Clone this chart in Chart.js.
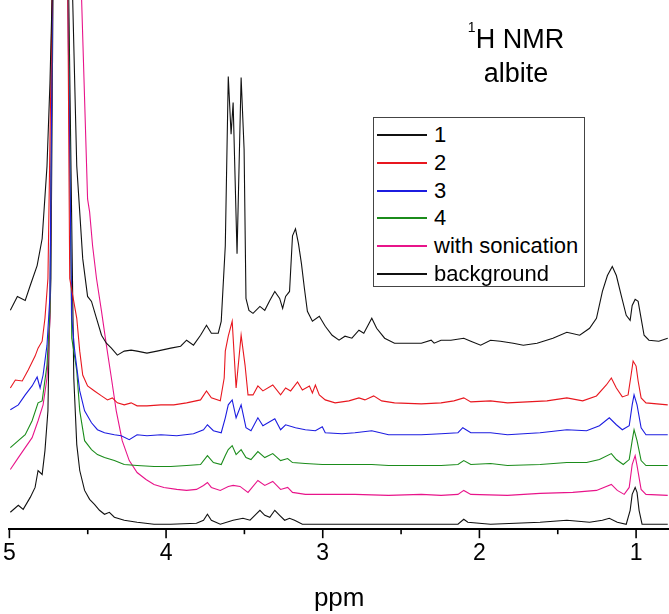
<!DOCTYPE html>
<html><head><meta charset="utf-8">
<script src="https://cdn.jsdelivr.net/npm/chart.js@4.4.0/dist/chart.umd.min.js"></script>
<style>
html,body{margin:0;padding:0;background:#fff;}
#wrap{position:relative;width:669px;height:614px;font-family:"Liberation Sans",Arial,sans-serif;color:#000;overflow:hidden;}
#c{position:absolute;left:0;top:0;}
#title{position:absolute;left:416px;width:200px;top:22px;text-align:center;font-size:27px;line-height:34px;white-space:nowrap;}
#title sup{font-size:14px;position:relative;top:-2px;vertical-align:top;line-height:14px;}
#legend{position:absolute;left:373px;top:117px;width:212px;height:170px;border:1px solid #444;box-sizing:border-box;background:#fff;}
.row{position:absolute;left:0;height:28px;line-height:28px;font-size:22px;white-space:nowrap;}
.sw{position:absolute;left:3px;top:13px;width:50px;height:2px;}
.lb{position:absolute;left:60px;top:0;}
</style></head>
<body><div id="wrap"><canvas id="c" width="669" height="614"></canvas>
<div id="title"><sup>1</sup>H NMR<br>albite</div>
<div id="legend"></div></div>
<script>
// x = chemical shift (ppm), y = intensity (a.u.)
const spectrum1 = [[4.994,220],[4.949,234],[4.899,230],[4.867,245],[4.823,265],[4.791,292],[4.760,365],[4.741,449],[4.728,532],[4.671,3000],[4.596,532],[4.570,365],[4.532,272],[4.501,234],[4.476,229],[4.444,212],[4.412,195],[4.381,187],[4.349,182],[4.311,175],[4.267,179],[4.223,180],[4.185,179],[4.122,177],[4.058,179],[3.970,182],[3.907,184],[3.869,190],[3.825,185],[3.780,195],[3.742,205],[3.711,197],[3.667,197],[3.648,209],[3.622,285],[3.603,455],[3.585,397],[3.572,429],[3.547,277],[3.521,454],[3.502,382],[3.490,232],[3.471,220],[3.445,217],[3.401,224],[3.370,220],[3.338,230],[3.306,239],[3.275,232],[3.256,222],[3.237,234],[3.212,239],[3.193,295],[3.174,302],[3.155,287],[3.136,267],[3.117,242],[3.098,219],[3.066,209],[3.022,214],[2.984,204],[2.940,195],[2.896,190],[2.858,194],[2.814,192],[2.769,200],[2.738,197],[2.687,212],[2.656,202],[2.605,192],[2.542,187],[2.453,187],[2.371,187],[2.308,190],[2.289,187],[2.245,190],[2.182,190],[2.100,192],[2.055,189],[1.992,185],[1.929,190],[1.866,189],[1.784,187],[1.720,185],[1.632,187],[1.531,192],[1.442,198],[1.360,195],[1.297,202],[1.253,212],[1.215,239],[1.183,255],[1.152,264],[1.126,255],[1.095,235],[1.063,215],[1.038,210],[1.025,225],[1.006,231],[0.987,229],[0.968,212],[0.949,195],[0.918,190],[0.855,189],[0.798,192]];
const spectrum2 = [[4.994,142],[4.962,150],[4.918,149],[4.880,160],[4.836,174],[4.817,182],[4.791,189],[4.773,212],[4.754,252],[4.728,532],[4.671,3000],[4.627,532],[4.615,252],[4.596,235],[4.570,212],[4.551,179],[4.532,155],[4.501,144],[4.457,139],[4.412,134],[4.374,130],[4.343,132],[4.311,127],[4.267,125],[4.223,127],[4.185,124],[4.122,124],[4.033,125],[3.951,125],[3.869,127],[3.780,130],[3.742,139],[3.711,132],[3.654,129],[3.629,152],[3.622,179],[3.603,194],[3.578,209],[3.553,142],[3.521,195],[3.496,165],[3.477,135],[3.445,135],[3.414,144],[3.382,139],[3.319,145],[3.269,135],[3.237,142],[3.205,139],[3.161,148],[3.130,140],[3.085,144],[3.066,137],[3.047,145],[3.022,135],[2.984,130],[2.921,127],[2.833,129],[2.769,132],[2.731,130],[2.675,134],[2.624,129],[2.542,127],[2.371,126],[2.245,127],[2.163,129],[2.100,132],[2.055,128],[1.929,129],[1.821,127],[1.695,128],[1.569,129],[1.442,132],[1.341,129],[1.253,134],[1.190,145],[1.158,152],[1.126,142],[1.088,133],[1.051,135],[1.032,155],[1.019,169],[1.000,164],[0.987,149],[0.968,132],[0.937,127],[0.798,125]];
const spectrum3 = [[4.994,120],[4.943,125],[4.899,135],[4.855,144],[4.823,153],[4.804,142],[4.785,155],[4.760,185],[4.741,235],[4.725,532],[4.671,3000],[4.627,532],[4.602,212],[4.583,179],[4.551,139],[4.520,119],[4.476,107],[4.438,100],[4.393,97],[4.330,95],[4.286,94],[4.235,90],[4.185,95],[4.122,94],[4.033,95],[3.932,94],[3.825,96],[3.761,100],[3.736,105],[3.698,99],[3.648,97],[3.622,112],[3.603,125],[3.578,130],[3.553,112],[3.521,125],[3.490,102],[3.458,99],[3.414,112],[3.382,104],[3.306,111],[3.269,100],[3.237,105],[3.174,102],[3.111,100],[3.047,99],[3.003,103],[2.984,97],[2.877,96],[2.795,97],[2.687,99],[2.580,95],[2.371,95],[2.245,96],[2.137,97],[2.106,102],[2.055,97],[1.929,97],[1.821,95],[1.613,97],[1.442,100],[1.316,99],[1.234,104],[1.171,112],[1.126,105],[1.088,100],[1.044,104],[1.025,125],[1.013,135],[0.994,125],[0.968,102],[0.937,95],[0.798,95]];
const spectrum4 = [[4.994,82],[4.943,89],[4.899,95],[4.855,109],[4.817,127],[4.791,129],[4.760,165],[4.741,219],[4.725,532],[4.671,3000],[4.624,532],[4.602,192],[4.589,179],[4.570,159],[4.551,119],[4.520,89],[4.476,80],[4.438,75],[4.393,72],[4.330,69],[4.267,65],[4.185,64],[4.077,63],[3.970,63],[3.869,64],[3.780,65],[3.736,74],[3.698,67],[3.648,65],[3.622,74],[3.603,80],[3.578,84],[3.553,75],[3.521,80],[3.490,72],[3.458,70],[3.414,78],[3.370,72],[3.319,76],[3.269,69],[3.224,71],[3.193,67],[3.111,66],[3.003,65],[2.896,65],[2.795,65],[2.687,65],[2.580,64],[2.371,64],[2.245,64],[2.137,65],[2.100,69],[2.055,65],[1.929,66],[1.821,64],[1.613,65],[1.442,67],[1.316,67],[1.234,70],[1.158,76],[1.126,70],[1.082,65],[1.044,70],[1.025,89],[1.013,100],[0.994,89],[0.968,69],[0.937,64],[0.798,64]];
const spectrumSonication = [[4.994,60],[4.943,72],[4.899,82],[4.855,92],[4.817,109],[4.785,125],[4.760,152],[4.741,212],[4.725,532],[4.646,3000],[4.539,532],[4.501,332],[4.488,319],[4.469,285],[4.444,252],[4.412,219],[4.381,185],[4.349,152],[4.318,119],[4.280,89],[4.235,69],[4.185,57],[4.128,50],[4.077,45],[4.014,42],[3.932,40],[3.869,39],[3.806,40],[3.761,44],[3.736,47],[3.711,42],[3.654,39],[3.603,43],[3.572,44],[3.528,43],[3.477,37],[3.414,49],[3.370,44],[3.319,48],[3.269,40],[3.224,42],[3.193,37],[3.111,35],[3.003,35],[2.795,35],[2.580,34],[2.371,35],[2.245,34],[2.137,35],[2.100,39],[2.055,35],[1.821,34],[1.613,36],[1.404,37],[1.253,39],[1.158,45],[1.120,39],[1.076,35],[1.044,42],[1.025,65],[1.006,74],[0.994,64],[0.968,40],[0.937,35],[0.798,34]];
const spectrumBackground = [[4.994,17],[4.943,24],[4.912,20],[4.867,32],[4.836,42],[4.817,59],[4.791,55],[4.773,79],[4.754,119],[4.747,185],[4.735,252],[4.722,532],[4.671,3000],[4.621,532],[4.589,152],[4.570,85],[4.551,59],[4.520,39],[4.488,30],[4.457,25],[4.425,19],[4.393,15],[4.362,17],[4.330,12],[4.267,9],[4.185,7],[4.077,5],[3.970,5],[3.806,6],[3.761,9],[3.736,15],[3.711,9],[3.654,5],[3.572,9],[3.509,11],[3.464,9],[3.427,15],[3.401,19],[3.370,14],[3.338,12],[3.306,19],[3.275,14],[3.243,9],[3.212,11],[3.180,9],[3.130,5],[3.003,5],[2.795,5],[2.580,5],[2.371,5],[2.245,5],[2.137,5],[2.100,10],[2.074,7],[1.929,5],[1.613,7],[1.442,9],[1.297,7],[1.215,9],[1.171,11],[1.120,7],[1.063,5],[1.038,19],[1.025,35],[1.006,42],[0.994,37],[0.981,19],[0.962,5],[0.798,5]];

const seriesNames = ['1','2','3','4','with sonication','background'];
const seriesData = [spectrum1, spectrum2, spectrum3, spectrum4, spectrumSonication, spectrumBackground];
const seriesColors = ['#111111','#e8171f','#1c1ce0','#1b8c1b','#e8148a','#111111'];
const majorTicks = [5,4,3,2,1];
const allTicks = [5,4.5,4,3.5,3,2.5,2,1.5,1];
const xTitle = 'ppm';

Chart.defaults.font.family = '"Liberation Sans", Arial, sans-serif';
Chart.defaults.color = '#000';

const tickMarks = {
  id: 'tickMarks',
  afterDraw(chart) {
    const sc = chart.scales.x, ctx = chart.ctx, b = chart.chartArea.bottom;
    ctx.save();
    ctx.strokeStyle = '#000';
    ctx.lineWidth = 1.6;
    allTicks.forEach(v => {
      const x = sc.getPixelForValue(v);
      ctx.beginPath();
      ctx.moveTo(x, b);
      ctx.lineTo(x, b + (majorTicks.includes(v) ? 9 : 5));
      ctx.stroke();
    });
    ctx.restore();
  }
};

new Chart(document.getElementById('c'), {
  type: 'line',
  data: {
    datasets: seriesData.map((d, i) => ({
      label: seriesNames[i],
      data: d.map(p => ({x: p[0], y: p[1]})),
      borderColor: seriesColors[i],
      borderWidth: 1.1,
      pointRadius: 0,
      tension: 0,
      fill: false
    }))
  },
  options: {
    responsive: false,
    animation: false,
    devicePixelRatio: 1,
    layout: {padding: {left: 4, right: 0, top: 0, bottom: 0}},
    plugins: {legend: {display: false}, tooltip: {enabled: false}},
    scales: {
      x: {
        type: 'linear',
        reverse: true,
        min: 0.79,
        max: 5,
        afterBuildTicks: s => { s.ticks = majorTicks.map(v => ({value: v})); },
        grid: {display: true, drawOnChartArea: false, drawTicks: true, tickLength: 8, color: 'rgba(0,0,0,0)'},
        border: {display: true, color: '#000', width: 2},
        ticks: {font: {size: 23}, color: '#000', padding: 3, maxRotation: 0, autoSkip: false, callback: v => String(v)},
        title: {display: true, text: xTitle, font: {size: 26}, color: '#000', padding: {top: 12, bottom: 0}}
      },
      y: {display: false, min: 0, max: 532}
    }
  },
  plugins: [tickMarks]
});

const leg = document.getElementById('legend');
seriesNames.forEach((n, i) => {
  const r = document.createElement('div');
  r.className = 'row';
  r.style.top = Math.round(3 + 27.8 * i) + 'px';
  const sw = document.createElement('div');
  sw.className = 'sw';
  sw.style.background = seriesColors[i];
  const lb = document.createElement('span');
  lb.className = 'lb';
  lb.textContent = n;
  r.appendChild(sw);
  r.appendChild(lb);
  leg.appendChild(r);
});
</script></body></html>
